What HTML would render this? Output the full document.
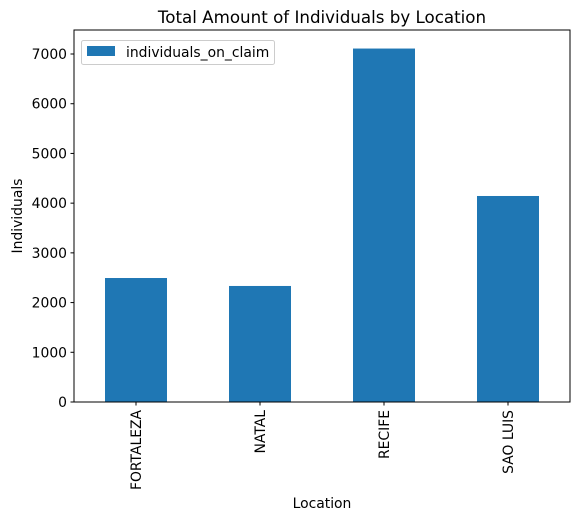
<!DOCTYPE html>
<html><head><meta charset="utf-8"><style>
body{margin:0;background:#fff;}
svg{font-family:"DejaVu Sans","Liberation Sans",sans-serif;}
</style></head><body>
<svg width="580" height="521" viewBox="0 0 580 521">
<text x="322" y="23" text-anchor="middle" font-size="16.7" fill="#000">Total Amount of Individuals by Location</text>
<g id="plot"></g>
<text x="322" y="508" text-anchor="middle" font-size="13.9">Location</text>
<text transform="translate(22,216) rotate(-90)" text-anchor="middle" font-size="13.9">Individuals</text>
</svg>
<script>
const categories=["FORTALEZA","NATAL","RECIFE","SAO LUIS"];
const values=[2494,2334,7110,4144];
const yTicks=[0,1000,2000,3000,4000,5000,6000,7000];
const L=74,R=570,T=30,B=402,YMAX=7483;
const ns="http://www.w3.org/2000/svg";
const g=document.getElementById('plot');
function y(v){return B-(B-T)*v/YMAX;}
function xc(i){return L+(R-L)*(i+0.5)/categories.length;}
const bw=(R-L)/categories.length*0.5;
function mk(t,a){const e=document.createElementNS(ns,t);for(const k in a)e.setAttribute(k,a[k]);g.appendChild(e);return e;}
values.forEach((v,i)=>{
 const r=mk('rect',{x:xc(i)-bw/2,y:y(v),width:bw,height:B-y(v),fill:'#1f77b4'});
 
 
});
const ax=mk('rect',{x:L,y:T,width:R-L,height:B-T,fill:'none',stroke:'#000','stroke-width':1});


yTicks.forEach(t=>{
 mk('line',{x1:L-3.5,x2:L,y1:y(t),y2:y(t),stroke:'#000'});
 const tx=mk('text',{x:L-7,y:y(t)+5,'text-anchor':'end','font-size':13.9});
 tx.textContent=t;
 
 
});
categories.forEach((c,i)=>{
 mk('line',{x1:xc(i),x2:xc(i),y1:B,y2:B+3.5,stroke:'#000'});
 const tx=mk('text',{x:0,y:0,'text-anchor':'end','font-size':13.9,transform:`translate(${xc(i)+5},${B+8}) rotate(-90)`});
 tx.textContent=c;
 
 
});
const lg=mk('rect',{x:81.5,y:40.5,width:193,height:24,rx:2,fill:'#fff',stroke:'#ccc'});


const sw=mk('rect',{x:87,y:46,width:28,height:10,fill:'#1f77b4'});


const lt=mk('text',{x:126,y:57,'font-size':13.9});
lt.textContent='individuals_on_claim';


</script>
</body></html>
